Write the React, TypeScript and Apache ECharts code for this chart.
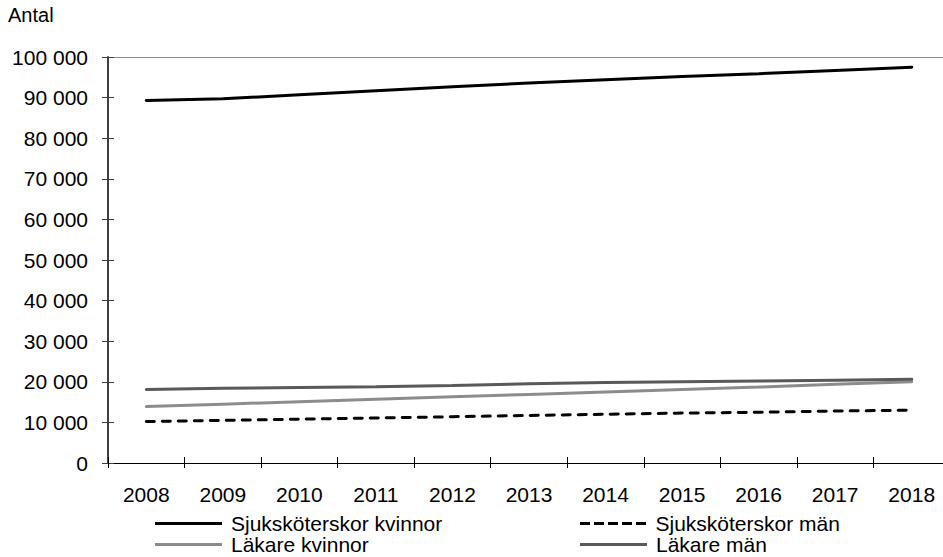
import React, { useEffect, useRef } from "react";
import * as echarts from "echarts";

const FONT = '"Liberation Sans", Arial, Helvetica, sans-serif';

// Years on the x axis
const years = ["2008", "2009", "2010", "2011", "2012", "2013", "2014", "2015", "2016", "2017", "2018"];

// Number of licensed staff per year
const sjukskoterskorKvinnor = [89300, 89700, 90700, 91700, 92650, 93600, 94400, 95200, 95900, 96700, 97500];
const sjukskoterskorMan = [10200, 10500, 10800, 11100, 11400, 11700, 12000, 12300, 12500, 12800, 13000];
const lakareKvinnor = [13900, 14500, 15100, 15700, 16300, 16900, 17500, 18100, 18700, 19400, 20000];
const lakareMan = [18100, 18400, 18600, 18800, 19100, 19500, 19800, 20000, 20200, 20400, 20600];

// Value axis range
const yMin = 0;
const yMax = 100000;
const yStep = 10000;

// Legend key shapes: a solid bar and a dashed bar
const SOLID_KEY = "rect";
const DASHED_KEY =
  "path://M0,0h10v3h-10z M14,0h10v3h-10z M28,0h10v3h-10z M42,0h10v3h-10z M56,0h10v3h-10z";

const fmtThousands = (v: number) => String(v).replace(/\B(?=(\d{3})+(?!\d))/g, " ");

export default function App() {
  const ref = useRef<HTMLDivElement>(null);

  useEffect(() => {
    if (!ref.current) return;
    const chart = echarts.init(ref.current, undefined, { renderer: "svg" });

    const lineSeries = (name: string, data: number[], color: string, type: any = "solid") => ({
      name,
      type: "line",
      data,
      xAxisIndex: 0,
      yAxisIndex: 0,
      symbol: "none",
      smooth: false,
      lineStyle: { color, width: 3, type, cap: "round" },
      itemStyle: { color },
      emphasis: { disabled: true },
    });

    // one legend per key so that the two columns line up
    const legendKey = (name: string, icon: string, left: number, top: number) => ({
      orient: "horizontal",
      left,
      top,
      padding: 0,
      itemWidth: 67,
      itemHeight: 3,
      selectedMode: false,
      icon,
      data: [name],
      textStyle: { fontSize: 21, lineHeight: 18, color: "#000", fontFamily: FONT, padding: [0, 0, 0, 4] },
    });

    chart.setOption({
      animation: false,
      backgroundColor: "#fff",
      textStyle: { fontFamily: FONT },
      grid: { left: 108, top: 57, right: -7, bottom: 94, containLabel: false, outerBoundsMode: "none" },
      graphic: [
        { type: "text", left: 8, top: 5, style: { text: "Antal", fontSize: 20, fill: "#000", fontFamily: FONT } },
      ],
      legend: [
        legendKey("Sjuksköterskor kvinnor", SOLID_KEY, 155, 513),
        legendKey("Läkare kvinnor", SOLID_KEY, 155, 534),
        legendKey("Sjuksköterskor män", DASHED_KEY, 580, 513),
        legendKey("Läkare män", SOLID_KEY, 580, 534),
      ],
      xAxis: [
        {
          type: "category",
          data: years,
          position: "bottom",
          boundaryGap: true,
          axisLine: { show: true, lineStyle: { color: "#000", width: 1 } },
          axisTick: { show: true, interval: 0, length: 5, lineStyle: { color: "#000", width: 1 } },
          axisLabel: { interval: 0, fontSize: 21, color: "#000", margin: 21, fontFamily: FONT },
          splitLine: { show: false },
        },
        {
          // inner half of the crossing ticks
          type: "category",
          data: years,
          position: "bottom",
          boundaryGap: true,
          axisLine: { show: false },
          axisTick: { show: true, inside: true, interval: 0, length: 6, lineStyle: { color: "#000", width: 1 } },
          axisLabel: { show: false },
          splitLine: { show: false },
        },
        {
          // plot-area top border
          type: "category",
          data: years,
          position: "top",
          axisLine: { show: true, lineStyle: { color: "#8c8c8c", width: 1 } },
          axisTick: { show: false },
          axisLabel: { show: false },
          splitLine: { show: false },
        },
      ],
      yAxis: [
        {
          type: "value",
          min: yMin,
          max: yMax,
          interval: yStep,
          position: "left",
          axisLine: { show: true, lineStyle: { color: "#404040", width: 2 } },
          axisTick: { show: true, length: 6, lineStyle: { color: "#404040", width: 1 } },
          axisLabel: { formatter: fmtThousands, fontSize: 21, color: "#000", margin: 20, fontFamily: FONT },
          splitLine: { show: false },
        },
        {
          type: "value",
          min: yMin,
          max: yMax,
          interval: yStep,
          position: "left",
          axisLine: { show: false },
          axisTick: { show: true, inside: true, length: 6, lineStyle: { color: "#404040", width: 1 } },
          axisLabel: { show: false },
          splitLine: { show: false },
        },
      ],
      series: [
        lineSeries("Sjuksköterskor kvinnor", sjukskoterskorKvinnor, "#000000"),
        lineSeries("Sjuksköterskor män", sjukskoterskorMan, "#000000", [8, 8]),
        lineSeries("Läkare kvinnor", lakareKvinnor, "#8c8c8c"),
        lineSeries("Läkare män", lakareMan, "#595959"),
      ],
    });

    return () => chart.dispose();
  }, []);

  return (
    <div
      ref={ref}
      style={{ position: "absolute", left: 0, top: 0, width: 943, height: 557, background: "#fff" }}
    />
  );
}
